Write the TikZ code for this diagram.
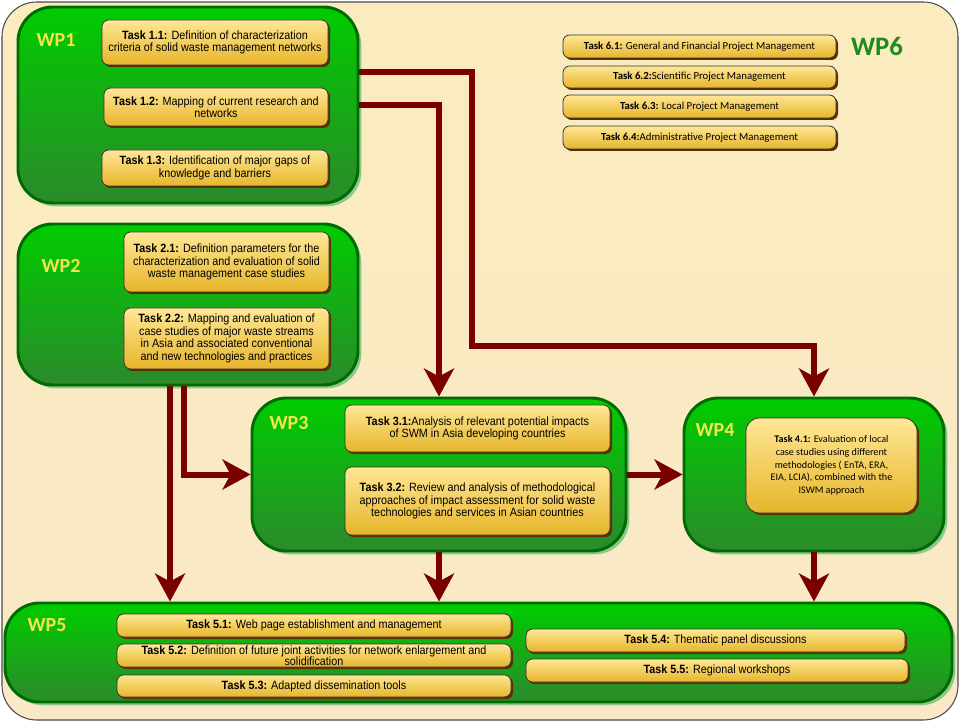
\documentclass[tikz,border=0pt]{standalone}
\usepackage{fontspec}
\setmainfont{Liberation Sans}
\newfontfamily\taskfont[FakeStretch=0.9]{Liberation Sans}
\newfontfamily\calfont{Carlito}
\usetikzlibrary{arrows.meta,shadows,fit}

\definecolor{paper}{HTML}{FBECBF}
\definecolor{paperlow}{HTML}{F8E8C6}
\definecolor{paperedge}{HTML}{4A4A4A}
\definecolor{wptop}{HTML}{00CC00}
\definecolor{wpbottom}{HTML}{2B8A2B}
\definecolor{wpedge}{HTML}{006B00}
\definecolor{wpshade}{HTML}{8CC78C}
\definecolor{labelyellow}{HTML}{F2E64A}
\definecolor{wpsix}{HTML}{1E8B1E}
\definecolor{tasktop}{HTML}{FFE796}
\definecolor{taskbottom}{HTML}{E6B52A}
\definecolor{taskshade}{HTML}{5C2E00}
\definecolor{flowred}{HTML}{7A0000}

\tikzset{
  wpbox/.style={rounded corners=26pt, draw=wpedge, line width=2.2pt, top color=wptop, bottom color=wpbottom, inner sep=0pt,
    drop shadow={shadow xshift=2.5pt, shadow yshift=-2.5pt, fill=wpshade, opacity=1}},
  boxsize/.style 2 args={minimum width=#1*0.75pt, minimum height=#2*0.75pt},
  taskbox/.style={rounded corners=5pt, draw=black!80, line width=0.6pt, top color=tasktop, bottom color=taskbottom, inner sep=0pt,
    align=center, font=\taskfont\fontsize{9}{9.4}\selectfont,
    drop shadow={shadow xshift=1.5pt, shadow yshift=-1.5pt, fill=taskshade, opacity=1}},
  caltask/.style={taskbox, font=\calfont\fontsize{8.1}{9.4}\selectfont},
  wplabel/.style={font=\calfont\bfseries\fontsize{15}{15}\selectfont, text=labelyellow},
  flow/.style={draw=flowred, line width=4.5pt, -{Stealth[length=21pt,width=22.5pt,inset=6pt]}}
}

\begin{document}
\begin{tikzpicture}[x=0.75pt, y=-0.75pt]
  \useasboundingbox (0,0) rectangle (960,723);

  % Background sheet
  \path[draw=paperedge, line width=0.8pt, top color=paper, bottom color=paperlow, rounded corners=26pt] (2,2) rectangle (958,720);

  % WP1
  \node[wpbox, fit={(18,7) (358,203)}] (wp1) {};
  \node[wplabel] (wp1lbl) at (56,40) {WP1};
  \node[taskbox, boxsize={226}{45}] (t11) at (215,42.5) {\textbf{Task 1.1:} Definition of characterization\\criteria of solid waste management networks};
  \node[taskbox, boxsize={224}{38}] (t12) at (216,107) {\textbf{Task 1.2:} Mapping of current research and\\networks};
  \node[taskbox, boxsize={226}{36}] (t13) at (215,168) {\textbf{Task 1.3:} Identification of major gaps of\\knowledge and barriers};

  % WP2
  \node[wpbox, fit={(18,224) (358,385)}] (wp2) {};
  \node[wplabel] (wp2lbl) at (61,266) {WP2};
  \node[taskbox, boxsize={205}{60}] (t21) at (226.5,262) {\textbf{Task 2.1:} Definition parameters for the\\characterization and evaluation of solid\\waste management case studies};
  \node[taskbox, boxsize={205}{61}] (t22) at (226.5,338.5) {\textbf{Task 2.2:} Mapping and evaluation of\\case studies of major waste streams\\in Asia and associated conventional\\and new technologies and practices};

  % WP3
  \node[wpbox, fit={(252,398) (626,551)}] (wp3) {};
  \node[wplabel] (wp3lbl) at (289,423) {WP3};
  \node[taskbox, boxsize={265}{47}] (t31) at (477.5,428.5) {\textbf{Task 3.1:}Analysis of relevant potential impacts\\of SWM in Asia developing countries};
  \node[taskbox, boxsize={265}{68}] (t32) at (477.5,501) {\textbf{Task 3.2:} Review and analysis of methodological\\approaches of impact assessment for solid waste\\technologies and services in Asian countries};

  % WP4
  \node[wpbox, fit={(684,398) (944,551)}] (wp4) {};
  \node[wplabel] (wp4lbl) at (715,430) {WP4};
  \node[caltask, font=\calfont\fontsize{7.6}{9.5}\selectfont, rounded corners=10pt, boxsize={171}{95}] (t41) at (831.5,465.5) {\textbf{Task 4.1:} Evaluation of local\\case studies using different\\methodologies ( EnTA, ERA,\\EIA, LCIA), combined with the\\ISWM approach};

  % WP5
  \node[wpbox, fit={(5,603) (952,702)}] (wp5) {};
  \node[wplabel] (wp5lbl) at (47,625) {WP5};
  \node[taskbox, boxsize={394}{23}] (t51) at (314,625.5) {\textbf{Task 5.1:} Web page establishment and management};
  \node[taskbox, font=\taskfont\fontsize{9}{8.4}\selectfont, boxsize={394}{23}] (t52) at (314,655.5) {\textbf{Task 5.2:} Definition of future joint activities for network enlargement and\\solidification};
  \node[taskbox, boxsize={394}{22}] (t53) at (314,686) {\textbf{Task 5.3:} Adapted dissemination tools};
  \node[taskbox, boxsize={379}{23}] (t54) at (715.5,640.5) {\textbf{Task 5.4:} Thematic panel discussions};
  \node[taskbox, boxsize={382}{23}] (t55) at (717,670.5) {\textbf{Task 5.5:} Regional workshops};

  % WP6 (management tasks, no frame)
  \node[caltask, boxsize={273}{23}] (t61) at (699.5,46.5) {\textbf{Task 6.1:} General and Financial Project Management};
  \node[caltask, boxsize={273}{22}] (t62) at (699.5,77) {\textbf{Task 6.2:}Scientific Project Management};
  \node[caltask, boxsize={273}{23}] (t63) at (699.5,106.5) {\textbf{Task 6.3:} Local Project Management};
  \node[caltask, boxsize={273}{23}] (t64) at (699.5,137.5) {\textbf{Task 6.4:}Administrative Project Management};
  \node[wplabel, text=wpsix, font=\calfont\bfseries\fontsize{20}{20}\selectfont] (wp6lbl) at (877,47) {WP6};

  % Flows between work packages
  \coordinate (bend) at (472,346);
  \draw[flow] (wp1.east |- 0,72) -| (bend) -| (wp4.north);
  \draw[flow] (wp1.east) -| (wp3.north);
  \draw[flow] (wp2.south -| 170,0) -- (wp5.north -| 170,0);
  \draw[flow] (wp2.south -| 184,0) |- (wp3.west);
  \draw[flow] (wp3.east) -- (wp4.west);
  \draw[flow] (wp3.south) -- (wp5.north -| wp3.south);
  \draw[flow] (wp4.south) -- (wp5.north -| wp4.south);
\end{tikzpicture}
\end{document}
